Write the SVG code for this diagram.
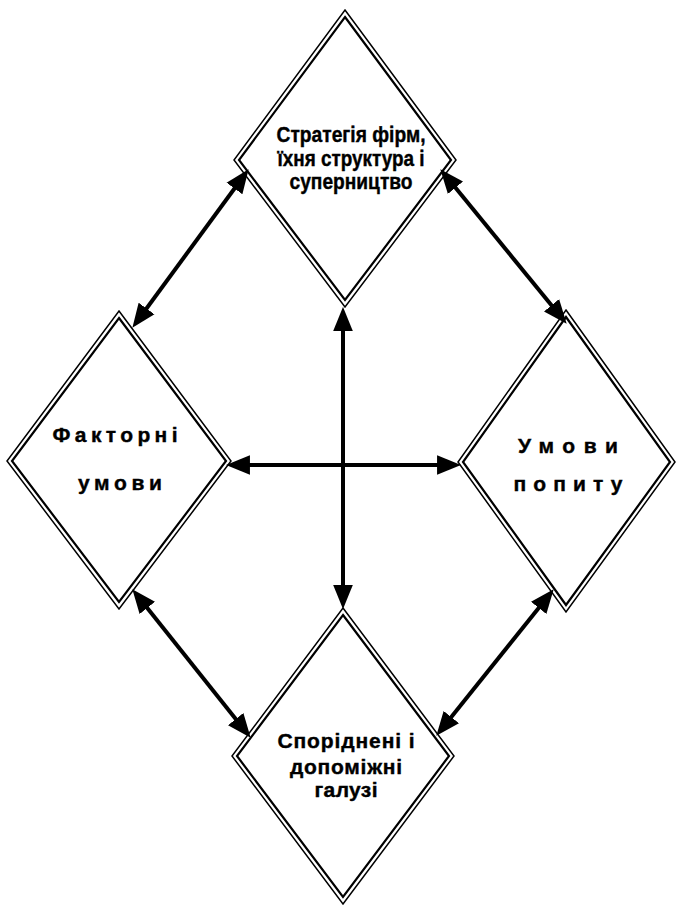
<svg xmlns="http://www.w3.org/2000/svg" width="676" height="906" viewBox="0 0 676 906">
<style>
.outer{fill:#fff;stroke:#000;stroke-width:1.5;stroke-linejoin:miter}
.inner{fill:none;stroke:#000;stroke-width:2.2;stroke-linejoin:miter}
.conn{stroke:#000;stroke-width:4;fill:none;marker-start:url(#ah);marker-end:url(#ah)}
.t{font-family:"Liberation Sans",Arial,sans-serif;font-weight:bold;font-size:20px;fill:#000;stroke:#000;stroke-width:0.4;text-anchor:middle}
.tn{font-size:22px}
.tw{font-size:21px}
</style>
<defs>
<marker id="ah" markerUnits="userSpaceOnUse" markerWidth="24" markerHeight="20" viewBox="0 0 22 18" refX="10" refY="9" orient="auto-start-reverse">
<path d="M0,0 L22,9 L0,18 z" fill="#000"/>
</marker>
</defs>
<rect width="676" height="906" fill="#fff"/>
<g id="node-strategy">
<polygon class="outer" points="345,10 456,160 345,307 234,160"/>
<polygon class="inner" points="345,17 451,160 345,300 239,160"/>
<text class="t tn" x="351" y="142" textLength="149" lengthAdjust="spacingAndGlyphs">Стратегія фірм,</text>
<text class="t tn" x="351" y="166" textLength="147" lengthAdjust="spacingAndGlyphs">їхня структура і</text>
<text class="t tn" x="351" y="189" textLength="123" lengthAdjust="spacingAndGlyphs">суперництво</text>
</g>
<g id="node-factor">
<polygon class="outer" points="119,311 231,461 119,609 7,461"/>
<polygon class="inner" points="119,318 226,461 119,602 12,461"/>
<text class="t tw" x="115" y="442" textLength="125" lengthAdjust="spacing">Факторні</text>
<text class="t tw" x="120" y="490" textLength="84" lengthAdjust="spacing">умови</text>
</g>
<g id="node-demand">
<polygon class="outer" points="566,310 675,462 566,612 458,462"/>
<polygon class="inner" points="566,317 670,462 566,605 463,462"/>
<text class="t tw" x="568" y="453" textLength="100" lengthAdjust="spacing">Умови</text>
<text class="t tw" x="568" y="491" textLength="109" lengthAdjust="spacing">попиту</text>
</g>
<g id="node-related">
<polygon class="outer" points="343,608 454,756 343,904 232,756"/>
<polygon class="inner" points="343,615 449,756 343,897 237,756"/>
<text class="t tw" x="346" y="748" textLength="137" lengthAdjust="spacing">Споріднені і</text>
<text class="t tw" x="346" y="774" textLength="112" lengthAdjust="spacing">допоміжні</text>
<text class="t tw" x="346" y="797" textLength="63" lengthAdjust="spacing">галузі</text>
</g>
<g id="connectors">
<line class="conn" x1="240.9" y1="179.7" x2="140.1" y2="317.3"/>
<line class="conn" x1="448.6" y1="179.3" x2="558.4" y2="313.7"/>
<line class="conn" x1="239" y1="465" x2="448" y2="465"/>
<line class="conn" x1="343" y1="320" x2="343" y2="596"/>
<line class="conn" x1="140.5" y1="599.4" x2="242.5" y2="727.6"/>
<line class="conn" x1="545.5" y1="599.4" x2="444.5" y2="725.6"/>
</g>
</svg>
